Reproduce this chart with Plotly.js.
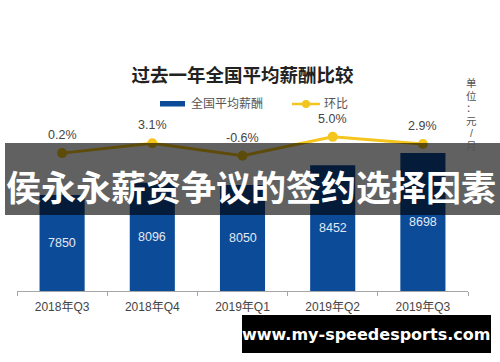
<!DOCTYPE html>
<html>
<head>
<meta charset="utf-8">
<script src="https://cdn.plot.ly/plotly-3.0.1.min.js"></script>
<style>html,body{margin:0;padding:0;background:#fff;}#chart{width:500px;height:362px;}</style>
</head>
<body>
<div id="chart"></div>
<script>
// ---- data ----
const categories = ['2018年Q3', '2018年Q4', '2019年Q1', '2019年Q2', '2019年Q3'];
const salary = [7850, 8096, 8050, 8452, 8698];
const salaryLabels = ['7850', '8096', '8050', '8452', '8698'];
const qoq = [0.2, 3.1, -0.6, 5.0, 2.9];
const qoqLabels = ['0.2%', '3.1%', '-0.6%', '5.0%', '2.9%'];
const seriesNames = ['全国平均薪酬', '环比'];
const chartTitle = '过去一年全国平均薪酬比较';
const unitChars = ['单', '位', '：', '元', '/', '月'];
const bannerText = '侯永永薪资争议的签约选择因素';
const watermark = 'www.my-speedesports.com';

// ---- colours ----
const barColor = '#0c4b98';
const lineColor = '#f4c51c';

// ---- geometry helpers (pixels -> paper) ----
const W = 500, H = 362;
const mL = 17, mR = 32, mT = 100, mB = 71;
const pw = W - mL - mR, ph = H - mT - mB;
const px = x => (x - mL) / pw;
const py = y => (H - mB - y) / ph;

const yMin = 5911, yMax = 5911 + ph / 0.0495;
const y2Min = -(H - mB - 153.8) / 3.39, y2Max = (153.8 - mT) / 3.39;

const cjk = '"Noto Sans CJK SC", "Noto Sans", sans-serif';
const latin = '"Liberation Sans", ' + cjk;

const traces = [
  {
    type: 'bar', name: seriesNames[0], x: categories, y: salary,
    marker: {color: barColor}, showlegend: false,
    hoverinfo: 'x+y'
  },
  {
    type: 'scatter', mode: 'lines+markers', name: seriesNames[1], x: categories, y: qoq,
    yaxis: 'y2', showlegend: false,
    line: {color: lineColor, width: 3},
    marker: {color: lineColor, size: 10}
  }
];

// value labels in the middle of the visible part of each bar
const annotations = salary.map((v, i) => ({
  x: categories[i], y: (v + yMin) / 2, xref: 'x', yref: 'y', text: salaryLabels[i],
  showarrow: false, font: {size: 12.5, color: '#e2e9f4', family: latin}
}));

qoq.forEach((v, i) => annotations.push({
  x: categories[i], y: v, xref: 'x', yref: 'y2', text: qoqLabels[i],
  showarrow: false, yshift: 18, font: {size: 12.5, color: '#444', family: latin}
}));

// unit, stacked vertically
unitChars.forEach((c, i) => annotations.push({
  xref: 'paper', yref: 'paper', x: px(472), y: py(83 + i * 12.6), text: c,
  showarrow: false, font: {size: 10.5, color: '#555', family: latin},
  xanchor: 'center', yanchor: 'middle', borderpad: 0
}));

// legend texts
annotations.push({
  xref: 'paper', yref: 'paper', x: px(189), y: py(103.5), text: seriesNames[0],
  showarrow: false, xanchor: 'left', yanchor: 'middle',
  font: {size: 12, color: '#555', family: latin}
});
annotations.push({
  xref: 'paper', yref: 'paper', x: px(322), y: py(103.5), text: seriesNames[1],
  showarrow: false, xanchor: 'left', yanchor: 'middle',
  font: {size: 12, color: '#555', family: latin}
});

annotations.push({
  xref: 'paper', yref: 'paper', x: px(251), y: py(185), text: '<b>' + bannerText + '</b>',
  showarrow: false, font: {size: 35, color: '#ffffff', family: cjk},
  xanchor: 'center', yanchor: 'middle'
});
annotations.push({
  xref: 'paper', yref: 'paper', x: px(366), y: py(334), text: '<b>' + watermark + '</b>',
  showarrow: false, font: {size: 16, color: '#ffffff', family: '"DejaVu Sans", sans-serif'},
  xanchor: 'center', yanchor: 'middle'
});

const shapes = [
  // legend swatches
  {type: 'rect', xref: 'paper', yref: 'paper', x0: px(160), x1: px(185), y0: py(101), y1: py(106.5),
   fillcolor: barColor, line: {width: 0}},
  {type: 'line', xref: 'paper', yref: 'paper', x0: px(292), x1: px(320), y0: py(104), y1: py(104),
   line: {color: lineColor, width: 2.5}},
  {type: 'circle', xref: 'paper', yref: 'paper', x0: px(302), x1: px(310), y0: py(100), y1: py(108),
   fillcolor: lineColor, line: {width: 0}},
  // banner and watermark boxes
  {type: 'rect', xref: 'paper', yref: 'paper', x0: px(5), x1: px(500), y0: py(143), y1: py(215),
   fillcolor: 'rgba(0,0,0,0.62)', line: {width: 0}, layer: 'above'},
  {type: 'rect', xref: 'paper', yref: 'paper', x0: px(242), x1: px(491), y0: py(315), y1: py(353),
   fillcolor: '#000000', line: {width: 0}, layer: 'above'}
];

const layout = {
  width: W, height: H,
  margin: {l: mL, r: mR, t: mT, b: mB, pad: 0},
  paper_bgcolor: '#ffffff', plot_bgcolor: '#ffffff',
  font: {family: cjk, color: '#444', size: 12},
  title: {text: '<b>' + chartTitle + '</b>', x: 0.5, xref: 'paper', xanchor: 'center',
          y: 1 - 76 / H, yref: 'container', yanchor: 'middle',
          font: {size: 18.5, color: '#222', family: cjk}},
  bargap: 0.5,
  xaxis: {type: 'category', showline: true, linecolor: '#a6a6a6', linewidth: 1,
          ticks: 'outside', tickson: 'boundaries', ticklen: 4, tickcolor: '#a6a6a6',
          ticklabelstandoff: 5,
          showgrid: false, zeroline: false, tickfont: {size: 12, color: '#444', family: latin}},
  yaxis: {range: [yMin, yMax], visible: false, showgrid: false, zeroline: false},
  yaxis2: {overlaying: 'y', range: [y2Min, y2Max],
           visible: false, showgrid: false, zeroline: false},
  showlegend: false,
  annotations: annotations,
  shapes: shapes
};

Plotly.newPlot('chart', traces, layout, {displayModeBar: false, staticPlot: true});
</script>
</body>
</html>
